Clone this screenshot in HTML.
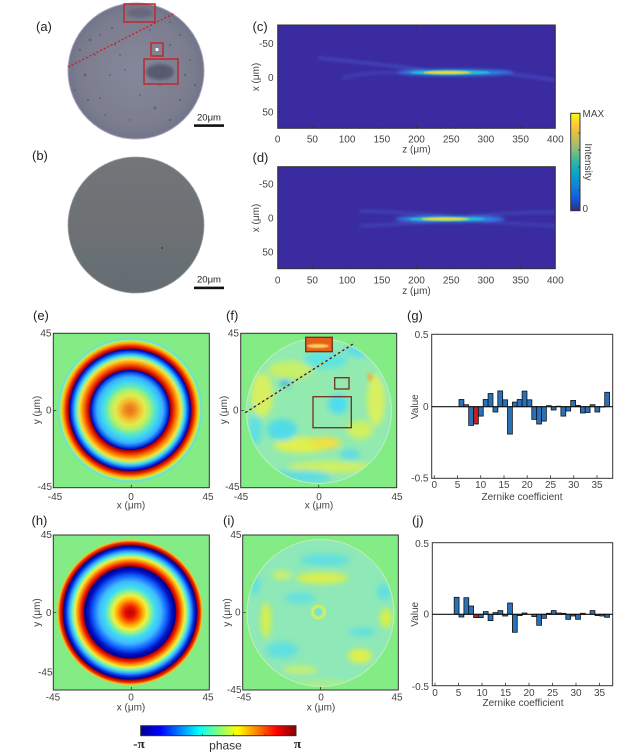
<!DOCTYPE html>
<html><head><meta charset="utf-8"><style>
html,body{margin:0;padding:0;background:#fff;}
svg{display:block;font-family:"Liberation Sans",Arial,sans-serif;}
.t{font-size:10px;fill:#444;}
.lab{font-size:13px;fill:#222;}
</style></head><body>
<svg width="639" height="753" viewBox="0 0 639 753" xmlns="http://www.w3.org/2000/svg">
<defs>
<filter id="b4" x="-50%" y="-50%" width="200%" height="200%"><feGaussianBlur stdDeviation="3"/></filter>
<filter id="b2" x="-50%" y="-200%" width="200%" height="500%"><feGaussianBlur stdDeviation="1.6"/></filter>
<filter id="b1" x="-50%" y="-200%" width="200%" height="500%"><feGaussianBlur stdDeviation="0.9"/></filter>
<filter id="b15" x="-50%" y="-50%" width="200%" height="200%"><feGaussianBlur stdDeviation="1.5"/></filter>
<radialGradient id="ga" cx="136" cy="71" r="68" gradientUnits="userSpaceOnUse">
<stop offset="0" stop-color="#85889a"/><stop offset="0.8" stop-color="#7c7e90"/><stop offset="1" stop-color="#727488"/></radialGradient>
<linearGradient id="gb" x1="0" y1="157" x2="0" y2="293" gradientUnits="userSpaceOnUse">
<stop offset="0" stop-color="#727679"/><stop offset="0.7" stop-color="#6b6f72"/><stop offset="0.71" stop-color="#677075"/><stop offset="1" stop-color="#656d72"/></linearGradient>
<radialGradient id="ge" cx="130" cy="410" r="73" gradientUnits="userSpaceOnUse">
<stop offset="0" stop-color="#e8741c"/>
<stop offset="0.068" stop-color="#f08a20"/>
<stop offset="0.137" stop-color="#f4c030"/>
<stop offset="0.205" stop-color="#e0ec50"/>
<stop offset="0.274" stop-color="#a8f070"/>
<stop offset="0.329" stop-color="#60e8c0"/>
<stop offset="0.384" stop-color="#40d8f0"/>
<stop offset="0.452" stop-color="#38b0ff"/>
<stop offset="0.5" stop-color="#1060f0"/>
<stop offset="0.541" stop-color="#0000b0"/>
<stop offset="0.555" stop-color="#a00000"/>
<stop offset="0.589" stop-color="#e02000"/>
<stop offset="0.644" stop-color="#ff8a00"/>
<stop offset="0.692" stop-color="#f8e040"/>
<stop offset="0.726" stop-color="#80f0b0"/>
<stop offset="0.76" stop-color="#30c0ff"/>
<stop offset="0.795" stop-color="#1050f0"/>
<stop offset="0.829" stop-color="#0000a0"/>
<stop offset="0.842" stop-color="#a00000"/>
<stop offset="0.877" stop-color="#f02800"/>
<stop offset="0.918" stop-color="#ffb000"/>
<stop offset="0.952" stop-color="#c0f060"/>
<stop offset="0.973" stop-color="#60e0e0"/>
<stop offset="0.993" stop-color="#80e8a0"/>
<stop offset="1" stop-color="#84ec84"/>
</radialGradient>
<radialGradient id="gh" cx="130" cy="612.5" r="73" gradientUnits="userSpaceOnUse">
<stop offset="0" stop-color="#c00000"/>
<stop offset="0.068" stop-color="#e01000"/>
<stop offset="0.123" stop-color="#ff5000"/>
<stop offset="0.178" stop-color="#ffb000"/>
<stop offset="0.233" stop-color="#f0f040"/>
<stop offset="0.288" stop-color="#90f090"/>
<stop offset="0.342" stop-color="#40e0f0"/>
<stop offset="0.425" stop-color="#40b8ff"/>
<stop offset="0.507" stop-color="#1060ff"/>
<stop offset="0.575" stop-color="#0010c0"/>
<stop offset="0.623" stop-color="#000090"/>
<stop offset="0.637" stop-color="#b00000"/>
<stop offset="0.671" stop-color="#f02000"/>
<stop offset="0.712" stop-color="#ff9000"/>
<stop offset="0.753" stop-color="#f0f040"/>
<stop offset="0.795" stop-color="#60f0d0"/>
<stop offset="0.836" stop-color="#30a0ff"/>
<stop offset="0.877" stop-color="#0030e0"/>
<stop offset="0.911" stop-color="#000090"/>
<stop offset="0.925" stop-color="#a00000"/>
<stop offset="0.959" stop-color="#f03000"/>
<stop offset="0.986" stop-color="#ffc020"/>
<stop offset="1" stop-color="#84ec84"/>
</radialGradient>
<linearGradient id="parula" x1="0" y1="1" x2="0" y2="0">
<stop offset="0" stop-color="#352a87"/><stop offset="0.125" stop-color="#0f5cdd"/><stop offset="0.25" stop-color="#1481d6"/><stop offset="0.375" stop-color="#06a4ca"/><stop offset="0.5" stop-color="#2eb7a4"/><stop offset="0.625" stop-color="#87bf77"/><stop offset="0.75" stop-color="#d1bb59"/><stop offset="0.875" stop-color="#fec832"/><stop offset="1" stop-color="#f9fb0e"/></linearGradient>
<linearGradient id="jet" x1="0" y1="0" x2="1" y2="0">
<stop offset="0" stop-color="#00008f"/><stop offset="0.125" stop-color="#0000ff"/><stop offset="0.375" stop-color="#00ffff"/><stop offset="0.5" stop-color="#80ff80"/><stop offset="0.625" stop-color="#ffff00"/><stop offset="0.875" stop-color="#ff0000"/><stop offset="1" stop-color="#800000"/></linearGradient>
<clipPath id="cf"><circle cx="319" cy="411" r="73"/></clipPath>
<clipPath id="ci"><circle cx="320.5" cy="613" r="74"/></clipPath>
<clipPath id="cc"><rect x="277.7" y="25" width="277.6" height="103.3"/></clipPath>
<clipPath id="cd"><rect x="277.7" y="166.7" width="277.6" height="102"/></clipPath>
</defs>

<!-- (a) -->
<text class="lab" x="36" y="31">(a)</text>
<circle cx="136" cy="71" r="68" fill="url(#ga)" stroke="#a8a4c8" stroke-width="1"/>
<g fill="#505468" opacity="0.6">
<circle cx="90" cy="40" r="1.5"/><circle cx="100" cy="35" r="1"/><circle cx="112" cy="28" r="1.2"/><circle cx="150" cy="30" r="1"/><circle cx="170" cy="22" r="1"/><circle cx="180" cy="35" r="1.2"/><circle cx="95" cy="55" r="1"/><circle cx="85" cy="75" r="1.5"/><circle cx="88" cy="100" r="1.2"/><circle cx="100" cy="98" r="1"/><circle cx="155" cy="108" r="1.5"/><circle cx="130" cy="120" r="1"/><circle cx="180" cy="100" r="1.2"/><circle cx="190" cy="60" r="1"/><circle cx="120" cy="55" r="1"/><circle cx="110" cy="75" r="1"/><circle cx="160" cy="85" r="1"/><circle cx="140" cy="95" r="1"/><circle cx="75" cy="90" r="1"/><circle cx="80" cy="50" r="1.2"/><circle cx="170" cy="45" r="1.2"/><circle cx="195" cy="85" r="1.2"/><circle cx="105" cy="115" r="1"/><circle cx="170" cy="120" r="1.2"/><circle cx="115" cy="45" r="1"/><circle cx="125" cy="70" r="1"/><circle cx="150" cy="70" r="1"/><circle cx="185" cy="75" r="1.2"/>
</g>
<ellipse cx="140" cy="13" rx="13" ry="5" fill="#66687c" filter="url(#b15)"/>
<ellipse cx="160" cy="72" rx="14" ry="8" fill="#585a70" filter="url(#b15)"/>
<circle cx="157" cy="49.5" r="1.6" fill="#fff"/>
<g fill="none" stroke="#c0282c" stroke-width="1.5">
<rect x="124" y="4" width="31" height="18"/>
<rect x="151" y="43" width="12" height="13"/>
<rect x="144" y="59" width="34" height="25"/>
</g>
<line x1="68" y1="67" x2="173" y2="14" stroke="#d02020" stroke-width="1.4" stroke-dasharray="2 2"/>
<rect x="194" y="124.3" width="30" height="2.6" fill="#111"/>
<text x="209" y="120.5" font-size="9.5" fill="#222" text-anchor="middle">20μm</text>

<!-- (b) -->
<text class="lab" x="32" y="160">(b)</text>
<circle cx="136" cy="225" r="68" fill="url(#gb)" stroke="#9a9ca0" stroke-width="0.8"/>
<circle cx="162" cy="248" r="1" fill="#444"/>
<rect x="194" y="286.6" width="30" height="2.6" fill="#111"/>
<text x="209" y="282.5" font-size="9.5" fill="#222" text-anchor="middle">20μm</text>

<!-- (c) -->
<text class="lab" x="252.5" y="31">(c)</text>
<rect x="277.7" y="25" width="277.6" height="103.3" fill="#3a2ba0"/>
<g clip-path="url(#cc)">
<g filter="url(#b2)">
<path d="M318 58 Q 380 64 432 71" stroke="#5066dc" stroke-width="1.6" fill="none" opacity="0.85"/>
<path d="M342 78 Q 372 70 420 74" stroke="#4a5ad0" stroke-width="1.3" fill="none"/>
<path d="M505 73 L 556 80" stroke="#4858d0" stroke-width="1.8" fill="none"/>
<ellipse cx="455" cy="72.5" rx="58" ry="3.3" fill="#2f86ea"/>
</g>
<ellipse cx="450" cy="72.5" rx="40" ry="2.2" fill="#28c0c8" filter="url(#b1)"/>
<ellipse cx="447" cy="72.5" rx="24" ry="1.6" fill="#f0d840" filter="url(#b1)"/>
</g>
<rect x="277.7" y="25" width="277.6" height="103.3" fill="none" stroke="#333" stroke-width="1"/>
<g stroke="#333" stroke-width="0.8">
<path d="M312.4 25v3M347.1 25v3M381.8 25v3M416.5 25v3M451.2 25v3M485.9 25v3M520.6 25v3M312.4 128.3v-3M347.1 128.3v-3M381.8 128.3v-3M416.5 128.3v-3M451.2 128.3v-3M485.9 128.3v-3M520.6 128.3v-3M277.7 43.3h3M277.7 77h3M277.7 111.7h3M555.3 43.3h-3M555.3 77h-3M555.3 111.7h-3"/>
</g>
<g class="t" text-anchor="end"><text x="273.5" y="47">-50</text><text x="273.5" y="81">0</text><text x="273.5" y="115.5">50</text></g>
<g class="t" text-anchor="middle"><text x="277.7" y="142.5">0</text><text x="312.4" y="142.5">50</text><text x="347.1" y="142.5">100</text><text x="381.8" y="142.5">150</text><text x="416.5" y="142.5">200</text><text x="451.2" y="142.5">250</text><text x="485.9" y="142.5">300</text><text x="520.6" y="142.5">350</text><text x="555.3" y="142.5">400</text>
<text x="416.5" y="152.5">z (μm)</text></g>
<text class="t" transform="translate(259,77) rotate(-90)" text-anchor="middle">x (μm)</text>

<!-- (d) -->
<text class="lab" x="252.5" y="162">(d)</text>
<rect x="277.7" y="166.7" width="277.6" height="102" fill="#3a2ba0"/>
<g clip-path="url(#cd)">
<g filter="url(#b2)">
<path d="M360 211 Q 420 213 460 217" stroke="#4a5ad0" stroke-width="1.5" fill="none"/>
<path d="M360 226 Q 420 223 460 220" stroke="#4a5ad0" stroke-width="1.5" fill="none"/>
<path d="M470 216 Q 520 212 556 212" stroke="#4656cc" stroke-width="1.4" fill="none"/>
<path d="M470 221 Q 520 224 556 226" stroke="#4656cc" stroke-width="1.4" fill="none"/>
<ellipse cx="450" cy="219" rx="55" ry="3.3" fill="#2f86ea"/>
</g>
<ellipse cx="447" cy="219" rx="38" ry="2.2" fill="#28c0c8" filter="url(#b1)"/>
<ellipse cx="445" cy="219" rx="24" ry="1.6" fill="#f0d840" filter="url(#b1)"/>
</g>
<rect x="277.7" y="166.7" width="277.6" height="102" fill="none" stroke="#333" stroke-width="1"/>
<g stroke="#333" stroke-width="0.8">
<path d="M312.4 166.7v3M347.1 166.7v3M381.8 166.7v3M416.5 166.7v3M451.2 166.7v3M485.9 166.7v3M520.6 166.7v3M312.4 268.7v-3M347.1 268.7v-3M381.8 268.7v-3M416.5 268.7v-3M451.2 268.7v-3M485.9 268.7v-3M520.6 268.7v-3M277.7 184h3M277.7 217.7h3M277.7 252h3M555.3 184h-3M555.3 217.7h-3M555.3 252h-3"/>
</g>
<g class="t" text-anchor="end"><text x="273.5" y="187.5">-50</text><text x="273.5" y="221.5">0</text><text x="273.5" y="255.5">50</text></g>
<g class="t" text-anchor="middle"><text x="277.7" y="283.5">0</text><text x="312.4" y="283.5">50</text><text x="347.1" y="283.5">100</text><text x="381.8" y="283.5">150</text><text x="416.5" y="283.5">200</text><text x="451.2" y="283.5">250</text><text x="485.9" y="283.5">300</text><text x="520.6" y="283.5">350</text><text x="555.3" y="283.5">400</text>
<text x="416.5" y="294">z (μm)</text></g>
<text class="t" transform="translate(259,218) rotate(-90)" text-anchor="middle">x (μm)</text>

<!-- intensity colorbar -->
<rect x="570.7" y="113.3" width="9.3" height="97.4" fill="url(#parula)" stroke="#333" stroke-width="1"/>
<g stroke="#333" stroke-width="0.7"><path d="M580 133h-2M580 150h-2M580 167h-2M580 190h-2"/></g>
<text class="t" x="582.5" y="117">MAX</text>
<text class="t" x="582.5" y="212">0</text>
<text class="t" transform="translate(585,162) rotate(90)" text-anchor="middle">Intensity</text>

<!-- (e) -->
<text class="lab" x="33" y="320">(e)</text>
<rect x="53.3" y="333.3" width="156" height="154.4" fill="#84ec84"/>
<circle cx="130" cy="410" r="73" fill="url(#ge)"/>
<rect x="53.3" y="333.3" width="156" height="154.4" fill="none" stroke="#333" stroke-width="1"/>
<g stroke="#333" stroke-width="0.8"><path d="M131.3 487.7v-3M53.3 410.5h3"/></g>
<g class="t" text-anchor="end"><text x="51.5" y="336.5">45</text><text x="51.5" y="413.5">0</text><text x="52" y="490">-45</text></g>
<g class="t" text-anchor="middle"><text x="55" y="500">-45</text><text x="131" y="500">0</text><text x="208" y="500">45</text><text x="131" y="508.5">x (μm)</text></g>
<text class="t" transform="translate(40,410) rotate(-90)" text-anchor="middle">y (μm)</text>

<!-- (f) -->
<text class="lab" x="226" y="320">(f)</text>
<rect x="240.7" y="333.3" width="156" height="154.4" fill="#84ec84"/>
<g clip-path="url(#cf)">
<circle cx="319" cy="411" r="73" fill="#92eab0"/>
<g filter="url(#b4)">
<ellipse cx="262" cy="395" rx="11" ry="22" fill="#d8f060"/>
<ellipse cx="302" cy="445" rx="28" ry="8" fill="#e0f050"/>
<ellipse cx="325" cy="443" rx="16" ry="6" fill="#f0e040"/>
<ellipse cx="282" cy="430" rx="15" ry="11" fill="#50dce8"/>
<ellipse cx="285" cy="383" rx="5" ry="4" fill="#30b8f0"/>
<ellipse cx="338" cy="404" rx="10" ry="10" fill="#50dcf0"/>
<ellipse cx="325" cy="360" rx="22" ry="9" fill="#60e4e0"/>
<ellipse cx="376" cy="400" rx="9" ry="26" fill="#d8f060"/>
<ellipse cx="389" cy="375" rx="6" ry="11" fill="#60dcf0"/>
<ellipse cx="330" cy="467" rx="42" ry="6" fill="#d0f060"/>
<ellipse cx="300" cy="477" rx="32" ry="7" fill="#60dce0"/>
<ellipse cx="290" cy="370" rx="22" ry="9" fill="#c8f068"/>
<ellipse cx="255" cy="430" rx="7" ry="15" fill="#60e0e0"/>
<ellipse cx="360" cy="430" rx="13" ry="9" fill="#d0f060"/>
<ellipse cx="360" cy="350" rx="16" ry="7" fill="#60dce8"/>
<ellipse cx="350" cy="455" rx="10" ry="6" fill="#60dce0"/>
</g>
<ellipse cx="370" cy="377" rx="2.5" ry="4" fill="#f0b040" filter="url(#b15)"/>
</g>
<circle cx="319" cy="411" r="72.5" fill="none" stroke="#b8f0c8" stroke-width="1"/>
<rect x="306" y="337.5" width="26" height="14" fill="#e86018"/>
<ellipse cx="318" cy="346" rx="11" ry="2" fill="#f8d060" filter="url(#b1)"/>
<g fill="none" stroke="#703020" stroke-width="1.3">
<rect x="305.7" y="337.3" width="26.6" height="14.4"/>
<rect x="334.7" y="377.7" width="14.3" height="11.3"/>
<rect x="313" y="396.7" width="38.3" height="31"/>
</g>
<line x1="245.3" y1="412.7" x2="353" y2="344" stroke="#e8d040" stroke-width="1.3"/>
<line x1="245.3" y1="412.7" x2="353" y2="344" stroke="#1a2060" stroke-width="1.3" stroke-dasharray="2.5 2.5"/>
<rect x="240.7" y="333.3" width="156" height="154.4" fill="none" stroke="#333" stroke-width="1"/>
<g stroke="#333" stroke-width="0.8"><path d="M318.7 487.7v-3M240.7 410.5h3"/></g>
<g class="t" text-anchor="end"><text x="239" y="336.5">45</text><text x="238.5" y="413.5">0</text><text x="239.5" y="490">-45</text></g>
<g class="t" text-anchor="middle"><text x="241" y="500">-45</text><text x="319" y="500">0</text><text x="397" y="500">45</text><text x="319" y="508.5">x (μm)</text></g>
<text class="t" transform="translate(227,410) rotate(-90)" text-anchor="middle">y (μm)</text>

<!-- (g) -->
<text class="lab" x="407" y="320">(g)</text>
<rect x="431.7" y="334.3" width="181" height="144" fill="#fff" stroke="#333" stroke-width="1"/>
<g fill="#2a72b8" stroke="#111" stroke-width="0.8">
<rect x="459.0" y="399.5" width="4.86" height="7.2"/>
<rect x="463.8" y="404.7" width="4.86" height="2.0"/>
<rect x="468.7" y="406.7" width="4.86" height="18.7"/>
<rect x="473.5" y="406.7" width="4.86" height="17.3" fill="#c02020"/>
<rect x="478.4" y="406.7" width="4.86" height="9.4"/>
<rect x="483.2" y="399.5" width="4.86" height="7.2"/>
<rect x="488.1" y="393.5" width="4.86" height="13.2"/>
<rect x="493.0" y="406.7" width="4.86" height="5.3"/>
<rect x="497.8" y="390.9" width="4.86" height="15.8"/>
<rect x="502.7" y="399.8" width="4.86" height="6.9"/>
<rect x="507.5" y="406.7" width="4.86" height="27.4"/>
<rect x="512.4" y="402.1" width="4.86" height="4.6"/>
<rect x="517.2" y="399.5" width="4.86" height="7.2"/>
<rect x="522.1" y="391.1" width="4.86" height="15.6"/>
<rect x="527.0" y="399.8" width="4.86" height="6.9"/>
<rect x="531.8" y="406.7" width="4.86" height="12.7"/>
<rect x="536.7" y="406.7" width="4.86" height="17.3"/>
<rect x="541.5" y="406.7" width="4.86" height="14.4"/>
<rect x="546.4" y="405.7" width="4.86" height="1.0"/>
<rect x="551.2" y="406.7" width="4.86" height="3.3"/>
<rect x="556.1" y="406.2" width="4.86" height="0.5"/>
<rect x="560.9" y="406.7" width="4.86" height="9.4"/>
<rect x="565.8" y="406.7" width="4.86" height="4.3"/>
<rect x="570.7" y="400.4" width="4.86" height="6.3"/>
<rect x="575.5" y="405.4" width="4.86" height="1.3"/>
<rect x="580.4" y="406.7" width="4.86" height="6.3"/>
<rect x="585.2" y="406.7" width="4.86" height="5.8"/>
<rect x="590.1" y="404.7" width="4.86" height="2.0"/>
<rect x="594.9" y="406.7" width="4.86" height="5.3"/>
<rect x="599.8" y="406.7" width="4.86" height="0.4"/>
<rect x="604.7" y="392.3" width="4.86" height="14.4"/>
</g>
<line x1="431.7" y1="406.7" x2="612.7" y2="406.7" stroke="#111" stroke-width="1.2"/>
<g stroke="#333" stroke-width="0.8"><path d="M434.3 478.3v-3M457.5 478.3v-3M480.7 478.3v-3M504 478.3v-3M527.2 478.3v-3M550.5 478.3v-3M573.7 478.3v-3M597 478.3v-3"/></g>
<g class="t" text-anchor="end"><text x="428.5" y="338">0.5</text><text x="428.5" y="410">0</text><text x="428.5" y="481.5">-0.5</text></g>
<g class="t" text-anchor="middle"><text x="434.3" y="488">0</text><text x="457.5" y="488">5</text><text x="480.7" y="488">10</text><text x="504" y="488">15</text><text x="527.2" y="488">20</text><text x="550.5" y="488">25</text><text x="573.7" y="488">30</text><text x="597" y="488">35</text><text x="522" y="500">Zernike coefficient</text></g>
<text class="t" transform="translate(418,406.7) rotate(-90)" text-anchor="middle">Value</text>

<!-- (h) -->
<text class="lab" x="31.5" y="525">(h)</text>
<rect x="53.3" y="535" width="156" height="155" fill="#84ec84"/>
<circle cx="130" cy="612.5" r="73" fill="url(#gh)"/>
<rect x="53.3" y="535" width="156" height="155" fill="none" stroke="#333" stroke-width="1"/>
<g stroke="#333" stroke-width="0.8"><path d="M131.3 690v-3M53.3 612.5h3"/></g>
<g class="t" text-anchor="end"><text x="52" y="538">45</text><text x="51.5" y="616">0</text><text x="52.5" y="675.5">-45</text></g>
<g class="t" text-anchor="middle"><text x="53" y="700.5">-45</text><text x="131" y="700.5">0</text><text x="208" y="700.5">45</text><text x="131" y="710.5">x (μm)</text></g>
<text class="t" transform="translate(40,612.5) rotate(-90)" text-anchor="middle">y (μm)</text>

<!-- (i) -->
<text class="lab" x="223" y="525">(i)</text>
<rect x="242.7" y="535" width="155.6" height="155" fill="#84ec84"/>
<g clip-path="url(#ci)">
<circle cx="320.5" cy="613" r="74" fill="#8ee8b8"/>
<g filter="url(#b4)">
<ellipse cx="322" cy="578" rx="26" ry="6" fill="#d8f050"/>
<ellipse cx="266" cy="620" rx="5" ry="18" fill="#d8f048"/>
<ellipse cx="386" cy="618" rx="6" ry="10" fill="#d8f048"/>
<ellipse cx="360" cy="656" rx="12" ry="7" fill="#e0f048"/>
<ellipse cx="300" cy="598" rx="15" ry="5" fill="#60e0e0"/>
<ellipse cx="282" cy="650" rx="16" ry="8" fill="#60e0e0"/>
<ellipse cx="362" cy="632" rx="14" ry="4" fill="#60e0e0"/>
<ellipse cx="322" cy="684" rx="30" ry="5" fill="#a8ec90"/>
<ellipse cx="300" cy="670" rx="18" ry="4" fill="#c8f070"/>
<ellipse cx="325" cy="560" rx="25" ry="6" fill="#60e0e0"/>
<ellipse cx="255" cy="585" rx="5" ry="10" fill="#60e0e0"/>
<ellipse cx="384" cy="592" rx="7" ry="8" fill="#60e0e0"/>
<ellipse cx="282" cy="575" rx="10" ry="5" fill="#c8f070"/>
</g>
<circle cx="318.5" cy="612" r="6" fill="#78e4c8" stroke="#d8f050" stroke-width="2.8" filter="url(#b1)"/>
</g>
<circle cx="320.5" cy="613" r="73.5" fill="none" stroke="#c0f0b0" stroke-width="1"/>
<rect x="242.7" y="535" width="155.6" height="155" fill="none" stroke="#333" stroke-width="1"/>
<g stroke="#333" stroke-width="0.8"><path d="M320.5 690v-3M242.7 612.5h3"/></g>
<g class="t" text-anchor="end"><text x="241.5" y="538">45</text><text x="240.5" y="615.5">0</text><text x="241.5" y="693">-45</text></g>
<g class="t" text-anchor="middle"><text x="244" y="700.5">-45</text><text x="321" y="700.5">0</text><text x="397" y="700.5">45</text><text x="321" y="710.5">x (μm)</text></g>
<text class="t" transform="translate(230,612.5) rotate(-90)" text-anchor="middle">y (μm)</text>

<!-- (j) -->
<text class="lab" x="412" y="525">(j)</text>
<rect x="432.3" y="542.7" width="180.4" height="143" fill="#fff" stroke="#333" stroke-width="1"/>
<g fill="#2a72b8" stroke="#111" stroke-width="0.8">
<rect x="454.2" y="597.3" width="4.86" height="17.0"/>
<rect x="459.0" y="614.3" width="4.86" height="2.7"/>
<rect x="463.9" y="597.7" width="4.86" height="16.6"/>
<rect x="468.7" y="606.0" width="4.86" height="8.3"/>
<rect x="473.6" y="614.3" width="4.86" height="3.3" fill="#c02020"/>
<rect x="478.4" y="614.3" width="4.86" height="3.3"/>
<rect x="483.3" y="611.6" width="4.86" height="2.7"/>
<rect x="488.1" y="614.3" width="4.86" height="6.3"/>
<rect x="493.0" y="612.6" width="4.86" height="1.7"/>
<rect x="497.9" y="610.6" width="4.86" height="3.7"/>
<rect x="502.7" y="614.3" width="4.86" height="1.7"/>
<rect x="507.6" y="603.0" width="4.86" height="11.3"/>
<rect x="512.4" y="614.3" width="4.86" height="18.0"/>
<rect x="517.3" y="614.3" width="4.86" height="1.3"/>
<rect x="522.1" y="613.0" width="4.86" height="1.3"/>
<rect x="531.8" y="614.3" width="4.86" height="2.3"/>
<rect x="536.7" y="614.3" width="4.86" height="11.0"/>
<rect x="541.6" y="614.3" width="4.86" height="4.0"/>
<rect x="546.4" y="613.3" width="4.86" height="1.0"/>
<rect x="551.3" y="610.6" width="4.86" height="3.7"/>
<rect x="556.1" y="613.0" width="4.86" height="1.3"/>
<rect x="561.0" y="613.3" width="4.86" height="1.0"/>
<rect x="565.8" y="614.3" width="4.86" height="5.0"/>
<rect x="570.7" y="614.3" width="4.86" height="1.7"/>
<rect x="575.6" y="614.3" width="4.86" height="5.0"/>
<rect x="580.4" y="613.3" width="4.86" height="1.0"/>
<rect x="590.1" y="610.6" width="4.86" height="3.7"/>
<rect x="595.0" y="614.3" width="4.86" height="1.3"/>
<rect x="599.8" y="614.3" width="4.86" height="1.7"/>
<rect x="604.7" y="614.3" width="4.86" height="3.0"/>
</g>
<line x1="432.3" y1="614.3" x2="612.7" y2="614.3" stroke="#111" stroke-width="1.2"/>
<g stroke="#333" stroke-width="0.8"><path d="M435 685.7v-3M458.5 685.7v-3M482 685.7v-3M505.5 685.7v-3M529 685.7v-3M552.5 685.7v-3M576 685.7v-3M599.5 685.7v-3"/></g>
<g class="t" text-anchor="end"><text x="429" y="547">0.5</text><text x="429" y="617.5">0</text><text x="429" y="690">-0.5</text></g>
<g class="t" text-anchor="middle"><text x="435" y="696">0</text><text x="458.5" y="696">5</text><text x="482" y="696">10</text><text x="505.5" y="696">15</text><text x="529" y="696">20</text><text x="552.5" y="696">25</text><text x="576" y="696">30</text><text x="599.5" y="696">35</text><text x="523" y="706">Zernike coefficient</text></g>
<text class="t" transform="translate(418,614.3) rotate(-90)" text-anchor="middle">Value</text>

<!-- phase colorbar -->
<rect x="140.7" y="725.7" width="155.3" height="10" fill="url(#jet)" stroke="#333" stroke-width="1"/>
<g stroke="#333" stroke-width="0.7"><path d="M171.7 735.7v-2M202.3 735.7v-2M233.3 735.7v-2M265 735.7v-2"/></g>
<text x="139" y="748" font-size="13" font-weight="bold" fill="#222" text-anchor="middle" font-family="Liberation Serif, serif">-π</text>
<text x="225.5" y="749.5" font-size="12" fill="#333" text-anchor="middle">phase</text>
<text x="297.5" y="748" font-size="13" font-weight="bold" fill="#222" text-anchor="middle" font-family="Liberation Serif, serif">π</text>
</svg>
</body></html>
